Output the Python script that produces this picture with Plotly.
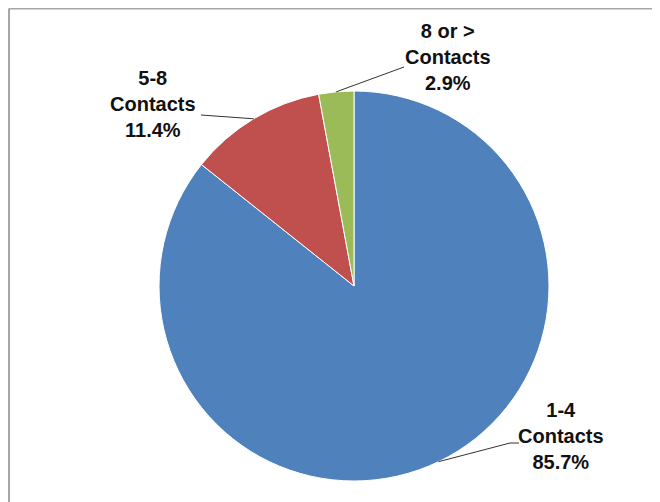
import math
import plotly.graph_objects as go

# ---- data ----
categories = ["1-4<br>Contacts", "5-8<br>Contacts", "8 or ><br>Contacts"]
values = [85.7, 11.4, 2.9]
pct_labels = ["85.7%", "11.4%", "2.9%"]
colors = ["#4F81BD", "#C0504D", "#9BBB59"]

# ---- layout geometry (page pixels) ----
OFF = 8                      # default page body margin
W, H = 660 - OFF, 502 - OFF  # figure size
CX, CY, R = 354, 286, 195
# label text block centres and leader-line ends (page pixels)
label_pos = [(561, 436), (153, 104), (448, 57)]
leader_ends = [[(510, 443), (519, 443)], [(201, 115)], [(404, 67)]]


def px(x):
    return (x - OFF) / W


def py(y):
    return 1 - (y - OFF) / H


fig = go.Figure(go.Pie(
    labels=categories,
    values=values,
    sort=False,
    direction="clockwise",
    rotation=0,
    marker=dict(colors=colors, line=dict(color="white", width=1)),
    textinfo="none",
    hoverinfo="label+percent",
    showlegend=False,
    domain=dict(x=[px(CX - R), px(CX + R)], y=[py(CY + R), py(CY - R)]),
))

total = sum(values)
cum = 0.0
shapes = []
annotations = []
for i, v in enumerate(values):
    mid = (cum + v / 2) / total * 2 * math.pi
    cum += v
    ex = CX + R * math.sin(mid)
    ey = CY - R * math.cos(mid)
    pts = [(ex, ey)] + leader_ends[i]
    path = "M " + " L ".join(f"{px(a)},{py(b)}" for a, b in pts)
    shapes.append(dict(type="path", path=path, xref="paper", yref="paper",
                       line=dict(color="#333333", width=1)))
    lx, ly = label_pos[i]
    annotations.append(dict(
        text=f"<b>{categories[i]}<br>{pct_labels[i]}</b>",
        x=px(lx), y=py(ly), xref="paper", yref="paper",
        xanchor="center", yanchor="middle", showarrow=False,
        font=dict(family="Liberation Sans", size=20, color="#111111"),
    ))

# chart border (left and top visible)
shapes.append(dict(type="line", xref="paper", yref="paper",
                   x0=px(9), y0=py(8.5), x1=1, y1=py(8.5),
                   line=dict(color="#A6A6A6", width=2)))
shapes.append(dict(type="line", xref="paper", yref="paper",
                   x0=px(9), y0=py(8.5), x1=px(9), y1=0,
                   line=dict(color="#A6A6A6", width=2)))

fig.update_layout(
    width=W, height=H,
    margin=dict(l=0, r=0, t=0, b=0),
    paper_bgcolor="white",
    plot_bgcolor="white",
    shapes=shapes,
    annotations=annotations,
    font=dict(family="Liberation Sans"),
)

fig.write_html("out.html")
